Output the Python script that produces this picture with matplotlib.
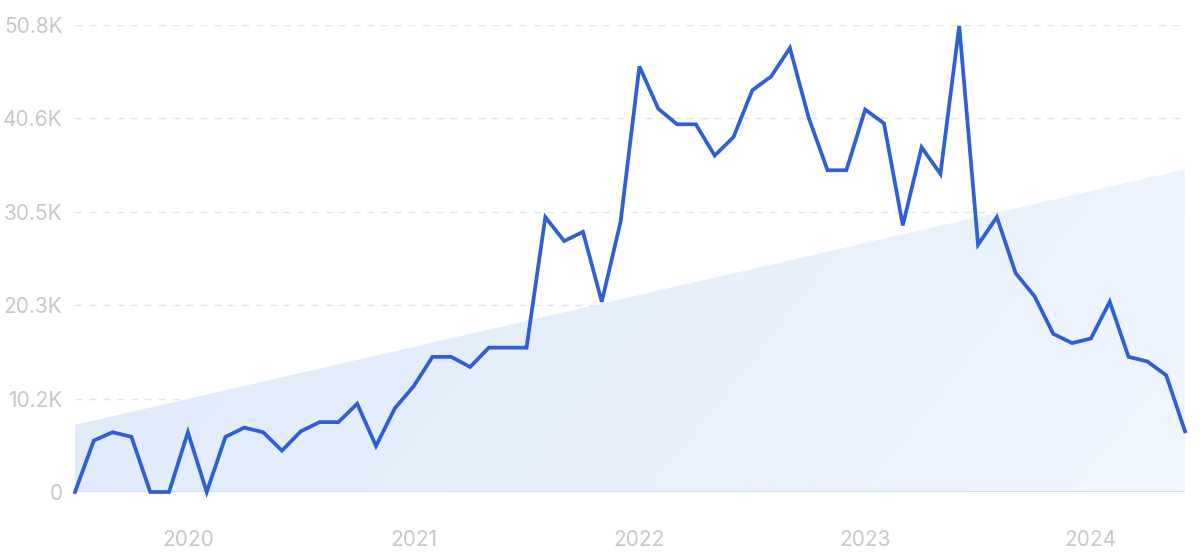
import numpy as np
import matplotlib
matplotlib.use("Agg")
import matplotlib.pyplot as plt
from matplotlib.colors import LinearSegmentedColormap

plt.rcParams['font.family'] = ['Inter', 'DejaVu Sans']

# Monthly values, Jul 2019 .. Jun 2024 (in thousands)
months = np.arange(60)
values = [
    0, 5.6, 6.5, 6.0, 0, 0,                # Jul-Dec 2019
    6.5, 0, 6.0, 7.0, 6.5, 4.5,            # 2020
    6.6, 7.6, 7.6, 9.6, 5.0, 9.1,
    11.5, 14.7, 14.7, 13.6, 15.7, 15.7,    # 2021
    15.7, 29.9, 27.3, 28.3, 20.7, 29.4,
    46.3, 41.7, 40.0, 40.0, 36.6, 38.6,    # 2022
    43.7, 45.2, 48.3, 40.7, 35.0, 35.0,
    41.6, 40.1, 29.0, 37.5, 34.6, 50.7,    # 2023
    26.9, 29.9, 23.8, 21.3, 17.2, 16.2,
    16.7, 20.7, 14.7, 14.2, 12.7, 6.6,     # 2024
]
values = np.array(values) * 1000

# trend area (start / end value)
trend_start = 7300
trend_end = 35100

year_ticks = [6, 18, 30, 42, 54]
year_labels = ["2020", "2021", "2022", "2023", "2024"]
y_ticks = [0, 10160, 20320, 30480, 40640, 50800]
y_labels = ["0", "10.2K", "20.3K", "30.5K", "40.6K", "50.8K"]

fig = plt.figure(figsize=(12, 5.56), dpi=100)
ax = fig.add_axes([75 / 1200, 64 / 556, 1110 / 1200, 467 / 556])
ax.set_xlim(0, 59)
ax.set_ylim(0, 50800)

# gradient trend area (diagonal, lighter toward bottom right)
trend = np.linspace(trend_start, trend_end, len(months))
poly = ax.fill_between(months, 0, trend, color="none", lw=0)
cmap = LinearSegmentedColormap.from_list("g", ["#dce8fa", "#f0f6fe"])
gx, gy = np.meshgrid(np.linspace(0, 1, 200), np.linspace(1, 0, 100))
grad = 0.75 * gx + 0.25 * (1 - gy)
img = ax.imshow(grad, cmap=cmap, extent=[0, 59, 0, 50800], aspect="auto", zorder=1)
img.set_clip_path(poly.get_paths()[0], transform=ax.transData)

# grid
for t in y_ticks[1:]:
    ax.axhline(t, color="#dfe4ee", lw=1, ls=(0, (5, 5)), zorder=0)
ax.axhline(0, color="#c8daf5", lw=1.2, zorder=2)

ax.plot(months, values, color="#2d5fd5", lw=2.7, zorder=3, clip_on=False,
        solid_joinstyle="miter")

for s in ax.spines.values():
    s.set_visible(False)
ax.set_xticks(year_ticks)
ax.set_xticklabels(year_labels)
ax.set_yticks(y_ticks)
ax.set_yticklabels(y_labels)
ax.tick_params(length=0, labelsize=15, colors="#c6c7cc", pad=9)
ax.tick_params(axis="x", pad=27)

fig.savefig("out.png", dpi=100)
